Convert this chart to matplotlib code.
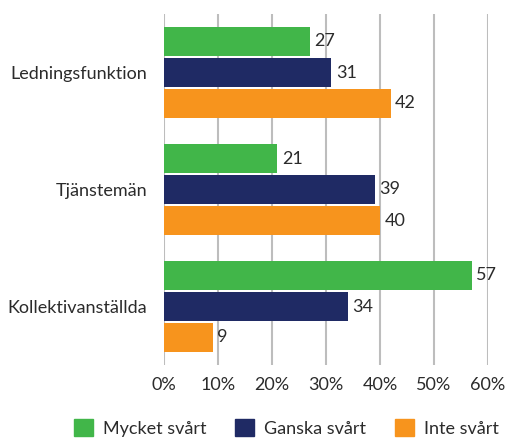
import numpy as np
import matplotlib
matplotlib.use('Agg')
from matplotlib import pyplot as plt
from matplotlib.patches import Patch

plt.rcParams['font.family'] = ['Lato', 'DejaVu Sans']

categories = ['Ledningsfunktion', 'Tjänstemän', 'Kollektivanställda']
series = ['Mycket svårt', 'Ganska svårt', 'Inte svårt']
mycket = [27, 21, 57]
ganska = [31, 39, 34]
inte = [42, 40, 9]
colors = ['#41b649', '#1f2a64', '#f7941d']
xticks = [0, 10, 20, 30, 40, 50, 60]

txt = '#2b2b2b'
fig = plt.figure(figsize=(5.07, 4.43), dpi=100)
ax = fig.add_axes([164/507, 1-365/443, 324/507, 351/443])

y = np.arange(len(categories))
h = 29/117
off = 31/117
for i, (vals, c) in enumerate(zip([mycket, ganska, inte], colors)):
    pos = y + (i - 1) * off
    ax.barh(pos, vals, height=h, color=c, zorder=3)
    for p, v in zip(pos, vals):
        ax.text(v + 0.8, p, str(v), va='center', ha='left', fontsize=13, color=txt)

ax.set_ylim(len(categories) - 0.5, -0.5)
ax.set_xlim(0, 60)
ax.set_xticks(xticks)
ax.set_xticklabels([f'{t}%' for t in xticks])
ax.set_yticks(y)
ax.set_yticklabels(categories)
ax.tick_params(length=0, labelsize=13, labelcolor=txt)
ax.tick_params(axis='x', pad=9)
ax.tick_params(axis='y', pad=12)
ax.grid(axis='x', color='#bdbdbd', linewidth=1.5, zorder=0)
for s in ax.spines.values():
    s.set_visible(False)

handles = [Patch(color=c) for c in colors]
fig.legend(handles, series, loc='upper left', bbox_to_anchor=(74/507, 1-419/443),
           ncol=3, frameon=False, fontsize=13, handlelength=1.05, handleheight=1.05,
           columnspacing=1.6, handletextpad=0.55, labelcolor=txt,
           borderpad=0, borderaxespad=0)

fig.savefig('out.png', dpi=100)
